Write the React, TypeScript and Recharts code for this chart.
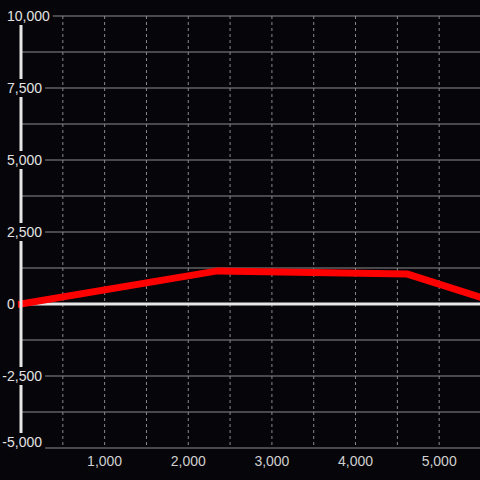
import {
  LineChart,
  Line,
  XAxis,
  YAxis,
  CartesianGrid,
  ReferenceLine,
} from "recharts";

const xValues = [0, 2350, 4620, 5500];
const yValues = [0, 1150, 1040, 230];

const xTicks = [500, 1000, 1500, 2000, 2500, 3000, 3500, 4000, 4500, 5000];
const xLabels = [1000, 2000, 3000, 4000, 5000];
const yTicks = [
  -5000, -3750, -2500, -1250, 0, 1250, 2500, 3750, 5000, 6250, 7500, 8750,
  10000,
];
const yLabels = [-5000, -2500, 0, 2500, 5000, 7500, 10000];

const data = xValues.map((x, i) => ({ x, y: yValues[i] }));

const BG = "#060509";
const FONT = '"Liberation Sans", Arial, sans-serif';
const fmt = (v: number) => v.toLocaleString("en-US");

// rough Arial 14px widths
const textWidth = (s: string) =>
  s.split("").reduce((w, c) => w + (c === "," ? 3.9 : c === "-" ? 4.7 : 7.8), 0);

function YTick({ y, payload }: any) {
  const v = payload.value;
  if (!yLabels.includes(v)) return null;
  const label = fmt(v);
  const cy = v === -5000 ? y - 6 : y;
  const x0 = v < 0 ? 2.3 : 7;
  const w = textWidth(label);
  return (
    <g>
      <rect x={x0 - 2} y={cy - 9} width={w + 5} height={18} fill={BG} />
      <text
        x={x0}
        y={cy}
        dy="0.36em"
        textAnchor="start"
        fill="#e2e2e2"
        fontSize={14}
        fontFamily={FONT}
      >
        {label}
      </text>
    </g>
  );
}

function XTick({ x, y, payload }: any) {
  const v = payload.value;
  if (!xLabels.includes(v)) return null;
  return (
    <text
      x={x}
      y={y}
      dy="0.71em"
      textAnchor="middle"
      fill="#d0d0d0"
      fontSize={14}
      fontFamily={FONT}
    >
      {fmt(v)}
    </text>
  );
}

export default function App() {
  return (
    <div
      style={{
        position: "fixed",
        left: 0,
        top: 0,
        width: 480,
        height: 480,
        background: BG,
      }}
    >
      <LineChart
        width={480}
        height={480}
        data={data}
        margin={{ top: 16, right: -1, bottom: 2, left: 0 }}
      >
        <CartesianGrid vertical={false} stroke="#8c8c8c" strokeWidth={1} />
        <CartesianGrid
          horizontal={false}
          stroke="#8a8a8a"
          strokeDasharray="3 3"
        />
        <XAxis
          dataKey="x"
          type="number"
          domain={[0, 5500]}
          ticks={xTicks}
          interval={0}
          axisLine={false}
          tickLine={false}
          tick={<XTick />}
          height={30}
        />
        <YAxis
          type="number"
          domain={[-5000, 10000]}
          ticks={yTicks}
          interval={0}
          width={21}
          axisLine={{ stroke: "#e6e6e6", strokeWidth: 3 }}
          tickLine={false}
          tick={<YTick />}
        />
        <ReferenceLine y={0} stroke="#e6e6e6" strokeWidth={3} />
        <Line
          dataKey="y"
          stroke="#ff0000"
          strokeWidth={7}
          strokeLinecap="square"
          dot={false}
          isAnimationActive={false}
        />
      </LineChart>
    </div>
  );
}
